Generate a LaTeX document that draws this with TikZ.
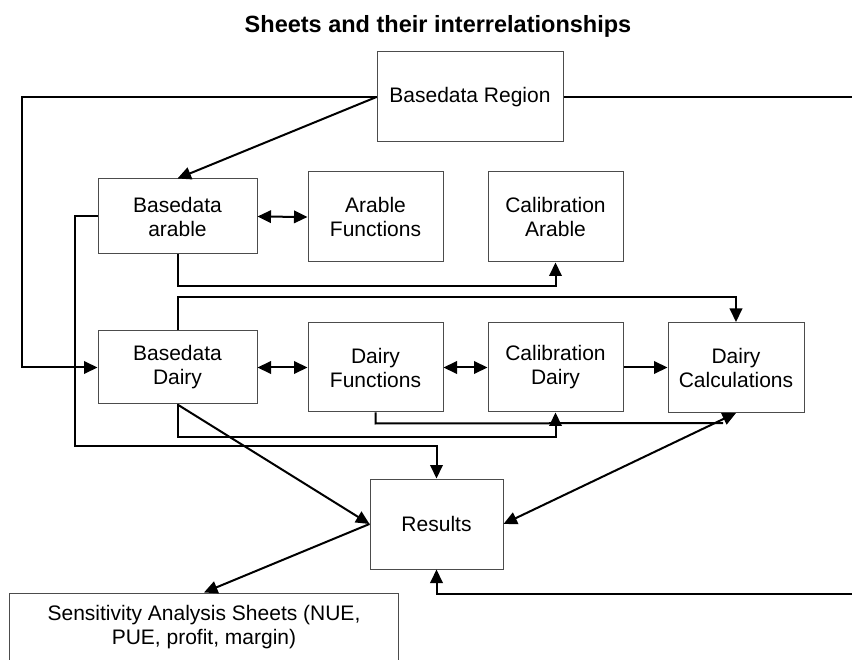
\documentclass[tikz,border=0pt]{standalone}
\usepackage{fontspec}
\setmainfont{Liberation Sans}
\usetikzlibrary{arrows.meta}
\begin{document}
\begin{tikzpicture}[x=1pt,y=-1pt,
  sheet/.style={draw=black!70, line width=1pt, fill=white, inner sep=0pt,
    align=center, font=\fontsize{21}{24}\selectfont},
  link/.style={line width=2pt, black, -{Triangle[length=13.5pt,width=12.5pt]}},
  plain/.style={line width=2pt, black},
  both/.style={line width=2pt, black,
    {Triangle[length=13.5pt,width=12.5pt]}-{Triangle[length=13.5pt,width=12.5pt]}},
]
\useasboundingbox (0,0) rectangle (852,660);
\clip (0,0) rectangle (852,660);
\fill[white] (0,0) rectangle (852,660);

% title
\node[font=\fontsize{23.5}{28}\selectfont\bfseries, anchor=base] (title)
  at (438,33) {Sheets and their interrelationships};

% sheets
\node[sheet, minimum width=186pt, minimum height=90pt] (region)  at (470,97)    {Basedata Region};
\node[sheet, minimum width=159pt, minimum height=75pt] (barable) at (177.5,216.5) {Basedata\\arable};
\node[sheet, minimum width=135pt, minimum height=90pt] (afun)    at (375.5,217) {Arable\\Functions};
\node[sheet, minimum width=135pt, minimum height=90pt] (carable) at (555.5,217) {Calibration\\Arable};
\node[sheet, minimum width=159pt, minimum height=73pt] (bdairy)  at (177.5,367.5) {Basedata\\Dairy};
\node[sheet, minimum width=135pt, minimum height=89pt] (dfun)    at (375.5,367.5) {Dairy\\Functions};
\node[sheet, minimum width=135pt, minimum height=89pt] (cdairy)  at (555.5,367.5) {Calibration\\Dairy};
\node[sheet, minimum width=136pt, minimum height=90pt] (dcalc)   at (736,367.5) {Dairy\\Calculations};
\node[sheet, minimum width=133pt, minimum height=90pt] (results) at (436.5,524) {Results};
\node[sheet, minimum width=389pt, minimum height=68pt] (sens)    at (204,627)
  {Sensitivity Analysis Sheets (NUE,\\PUE, profit, margin)};

% free ends at the border and on the diagonal
\coordinate (eastout) at (852,97);
\coordinate (southin) at (852,594);
\coordinate (dfjoin)  at (723,423);

% connectors
\draw[link]  (region.west) -- ++(-355,0) |- (bdairy.west);
\draw[plain] (region.east) -- (eastout);
\draw[link]  (region.west) -- (barable.north);
\draw[both]  (barable.east) -- (afun.west);
\draw[link]  (barable.west) -| (75,446) -| (results.north);
\draw[link]  (barable.south) -- ++(0,31.5) -| (carable.south);
\draw[link]  (bdairy.north) -- ++(0,-33) -| (dcalc.north);
\draw[both]  (bdairy.east) -- (dfun.west);
\draw[both]  (dfun.east) -- (cdairy.west);
\draw[link]  (cdairy.east) -- (dcalc.west);
\draw[plain] (dfun.south) -- ++(0,11) -- (dfjoin);
\draw[link]  (bdairy.south) -- ++(0,32) -| (cdairy.south);
\draw[link]  (bdairy.south) -- (results.west);
\draw[both]  (results.east) -- (dcalc.south);
\draw[link]  (results.west) -- (sens.north);
\draw[link]  (southin) -| (results.south);
\end{tikzpicture}
\end{document}
